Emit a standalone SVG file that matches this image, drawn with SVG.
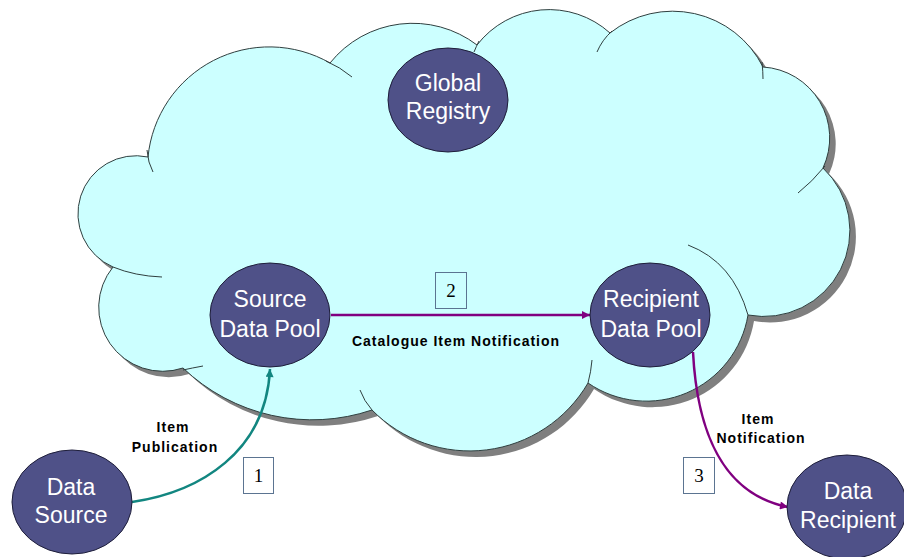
<svg xmlns="http://www.w3.org/2000/svg" width="904" height="557" viewBox="0 0 904 557">
<defs>
<style>
.node{fill:#4f5188;stroke:#1e1e3a;stroke-width:1}
.nl{font-family:"Liberation Sans",Arial,sans-serif;font-size:23px;fill:#ffffff;text-anchor:middle}
.el{font-family:"Liberation Sans",Arial,sans-serif;font-size:14px;font-weight:bold;fill:#000000;text-anchor:middle;letter-spacing:1px}
.box{fill:none;stroke:#5b7491;stroke-width:1}
.num{font-family:"Liberation Serif","Times New Roman",serif;font-size:19px;fill:#000000;text-anchor:middle}
.seam{fill:none;stroke:#2f3f3f;stroke-width:1}
</style>
<path id="cloudShape" d="M148,157 A122,122 0 0 1 330,63 A106,106 0 0 1 477,45 A91,91 0 0 1 610,33 A101,101 0 0 1 763,67 A71,71 0 0 1 823,168 A86,86 0 0 1 748,315 A103,103 0 0 1 588,383 A137,137 0 0 1 372,410 A187,187 0 0 1 183,368 A64,64 0 0 1 113,267 A58,58 0 0 1 148,157 Z"/>
<marker id="ahTeal" viewBox="0 0 10 10" refX="10" refY="5" markerWidth="9" markerHeight="8" markerUnits="userSpaceOnUse" orient="auto"><path d="M0,0 L10,5 L0,10 z" fill="#128680"/></marker>
<marker id="ahPurple" viewBox="0 0 10 10" refX="10" refY="5" markerWidth="9" markerHeight="8" markerUnits="userSpaceOnUse" orient="auto"><path d="M0,0 L10,5 L0,10 z" fill="#800080"/></marker>
</defs>
<rect x="0" y="0" width="904" height="557" fill="#ffffff"/>
<g id="cloud">
<use href="#cloudShape" transform="translate(6,6)" fill="#7f7f7f"/>
<use href="#cloudShape" fill="#ccffff" stroke="#2f3f3f" stroke-width="1"/>
<path class="seam" d="M147,150 Q148,163 153,172"/>
<path class="seam" d="M326,61 Q340,67 352,77"/>
<path class="seam" d="M479,41 Q476,47 474,52"/>
<path class="seam" d="M612,31 Q602,40 597,52"/>
<path class="seam" d="M762,62 Q763,72 763,79"/>
<path class="seam" d="M825,166 Q812,182 798,193"/>
<path class="seam" d="M688,245 Q733,262 748,315"/>
<path class="seam" d="M592,360 Q591,372 588,383"/>
<path class="seam" d="M360,390 Q364,401 372,410"/>
<path class="seam" d="M203,366 Q192,368 183,370"/>
<path class="seam" d="M113,267 Q135,276 162,277"/>
</g>
<g id="connectors">
<path d="M132,502 C200,492 266,452 270,369" fill="none" stroke="#128680" stroke-width="2.5" marker-end="url(#ahTeal)"/>
<path d="M331,315 L590,315" fill="none" stroke="#800080" stroke-width="2.5" marker-end="url(#ahPurple)"/>
<path d="M693,352 C697,430 722,494 788,507" fill="none" stroke="#800080" stroke-width="2.5" marker-end="url(#ahPurple)"/>
</g>
<g id="global-registry">
<ellipse class="node" cx="448" cy="100" rx="60" ry="52"/>
<text class="nl" x="448" y="91">Global</text>
<text class="nl" x="448" y="119">Registry</text>
</g>
<g id="source-data-pool">
<ellipse class="node" cx="270" cy="315" rx="60" ry="52"/>
<text class="nl" x="270" y="307">Source</text>
<text class="nl" x="270" y="337">Data Pool</text>
</g>
<g id="recipient-data-pool">
<ellipse class="node" cx="650" cy="315" rx="60" ry="52"/>
<text class="nl" x="651" y="307">Recipient</text>
<text class="nl" x="651" y="337">Data Pool</text>
</g>
<g id="data-source">
<ellipse class="node" cx="72" cy="502" rx="60" ry="52"/>
<text class="nl" x="71" y="495">Data</text>
<text class="nl" x="71" y="523">Source</text>
</g>
<g id="data-recipient">
<ellipse class="node" cx="847" cy="507" rx="60" ry="52"/>
<text class="nl" x="848" y="499">Data</text>
<text class="nl" x="848" y="528">Recipient</text>
</g>
<g id="labels">
<text class="el" x="456" y="346">Catalogue Item Notification</text>
<text class="el" x="173" y="432">Item</text>
<text class="el" x="175" y="452">Publication</text>
<text class="el" x="758" y="424">Item</text>
<text class="el" x="761" y="443">Notification</text>
</g>
<g id="step-1"><rect class="box" x="243.5" y="457.5" width="30" height="36"/><text class="num" x="258.5" y="482">1</text></g>
<g id="step-2"><rect class="box" x="435.5" y="272.5" width="31" height="36"/><text class="num" x="451" y="297">2</text></g>
<g id="step-3"><rect class="box" x="683.5" y="457.5" width="31" height="36"/><text class="num" x="699" y="482">3</text></g>
</svg>
